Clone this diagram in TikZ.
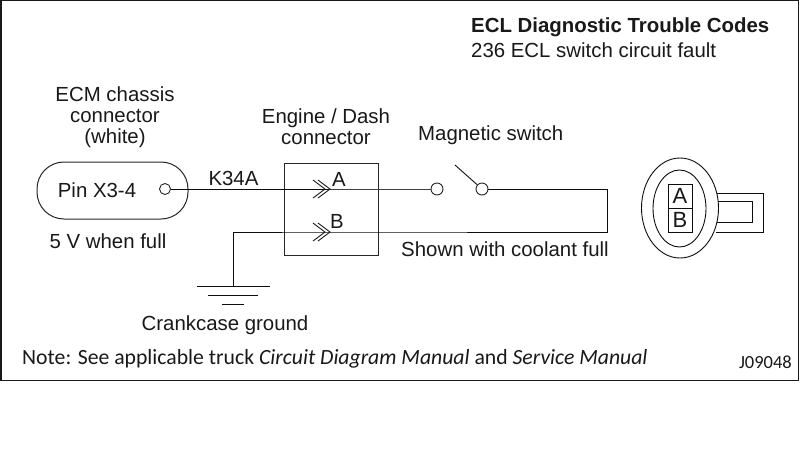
\documentclass[tikz,border=0pt]{standalone}
\usepackage{fontspec}
\setmainfont{Liberation Sans}
\newfontfamily\notefont{Carlito}
\begin{document}
\begin{tikzpicture}[x=1pt,y=-1pt,
  ln/.style={draw=black!95,line width=1pt},
  thin ln/.style={draw=black!95,line width=0.9pt},
  lbl/.style={font=\fontsize{20.4}{21}\selectfont,text=black!90,inner sep=0pt,align=center},
  term/.style={circle,draw=black!85,fill=white,line width=0.9pt,minimum size=12pt,inner sep=0pt},
  chev/.style={draw=black!90,line width=0.9pt}]
\useasboundingbox (0,0) rectangle (800,459);
\fill[white] (0,0) rectangle (800,459);
\draw[black!90,line width=1.8pt] (1,0) rectangle (798.5,380.5);
% titles
\node[lbl,anchor=west,font=\fontsize{20.4}{21}\selectfont\bfseries] (title) at (471,27) {ECL Diagnostic Trouble Codes};
\node[lbl,anchor=west] (sub) at (471,50) {236 ECL switch circuit fault};
\node[lbl] (ecm) at (115,117.5) {ECM chassis\\connector\\(white)};
\node[lbl] (ed) at (326,127) {Engine / Dash\\connector};
\node[lbl,anchor=west] (mag) at (418,135) {Magnetic switch};
% ECM pill
\node[draw=black!85,line width=1pt,rounded corners=27pt,minimum width=151pt,minimum height=57pt,inner sep=0pt] (pill) at (112.5,190.5) {};
\node[lbl] (pin) at (97,190) {Pin X3-4};
\node[term,minimum size=11pt] (p) at (165,189) {};
\node[lbl] (kk) at (233.5,178) {K34A};
\node[lbl] (fivev) at (108,241) {5 V when full};
% connector box
\node[draw=black!85,line width=1pt,minimum width=94pt,minimum height=92pt,inner sep=0pt] (box) at (331,209) {};
\node[lbl] (A) at (339,179) {A};
\node[lbl] (B) at (337,221) {B};
\coordinate (ta) at (330,189);
\coordinate (tb) at (330,232);
\coordinate (gtop) at (233,232);
\coordinate (gnd) at (233,286);
\coordinate (rb) at (607,232);
\coordinate (rt) at (607,189);
\coordinate (blade) at (455,165);
% switch
\node[term] (s1) at (437,189) {};
\node[term] (s2) at (482,189) {};
% wires
\draw[ln] (p) -- (ta);
\draw[thin ln,draw=black!75] (ta) -- (s1);
\draw[thin ln] (gnd) -- (gtop) -- (tb) -- (rb) -- (rt) -- (s2);
\draw[thin ln] (blade) -- (s2);
% chevrons
\draw[chev] (318,180) -- (ta) -- (318,198);
\draw[chev] (313,180) -- (325,189) -- (313,198);
\draw[chev] (318,223) -- (tb) -- (318,241);
\draw[chev] (313,223) -- (325,232) -- (313,241);
% ground
\coordinate (g1a) at (197,286); \coordinate (g1b) at (270,286);
\coordinate (g2a) at (208,295); \coordinate (g2b) at (258,295);
\coordinate (g3a) at (222,304); \coordinate (g3b) at (244,304);
\draw[thin ln] (g1a) -- (g1b);
\draw[thin ln] (g2a) -- (g2b);
\draw[thin ln] (g3a) -- (g3b);
\node[lbl] (cg) at (225,325) {Crankcase ground};
\node[lbl] (shown) at (505,249) {Shown with coolant full};
% connector drawing
\draw[thin ln] (716,193) -- (763,193) -- (763,232) -- (716,232);
\draw[thin ln] (716,201) -- (752,201) -- (752,222) -- (716,222);
\draw[thin ln,fill=white] (680,208) ellipse (38.5pt and 50pt);
\draw[thin ln] (679.5,208.5) ellipse (26.5pt and 38.5pt);
\node[thin ln,draw,minimum width=24pt,minimum height=24pt,inner sep=0pt] (ca) at (680,196) {};
\node[thin ln,draw,minimum width=24pt,minimum height=24pt,inner sep=0pt] (cb) at (680,220) {};
\node[lbl,font=\fontsize{22}{22}\selectfont] at (ca) {A};
\node[lbl,font=\fontsize{22}{22}\selectfont] at (cb) {B};
% note
\node[anchor=west,inner sep=0pt,text=black!90,font=\notefont\fontsize{21.7}{23}\selectfont] (note) at (22,359) {Note: See applicable truck \textit{Circuit Diagram Manual} and \textit{Service Manual}};
\node[anchor=east,inner sep=0pt,text=black!90,font=\notefont\fontsize{18.5}{19}\selectfont] (code) at (792,362) {J09048};
\end{tikzpicture}
\end{document}
